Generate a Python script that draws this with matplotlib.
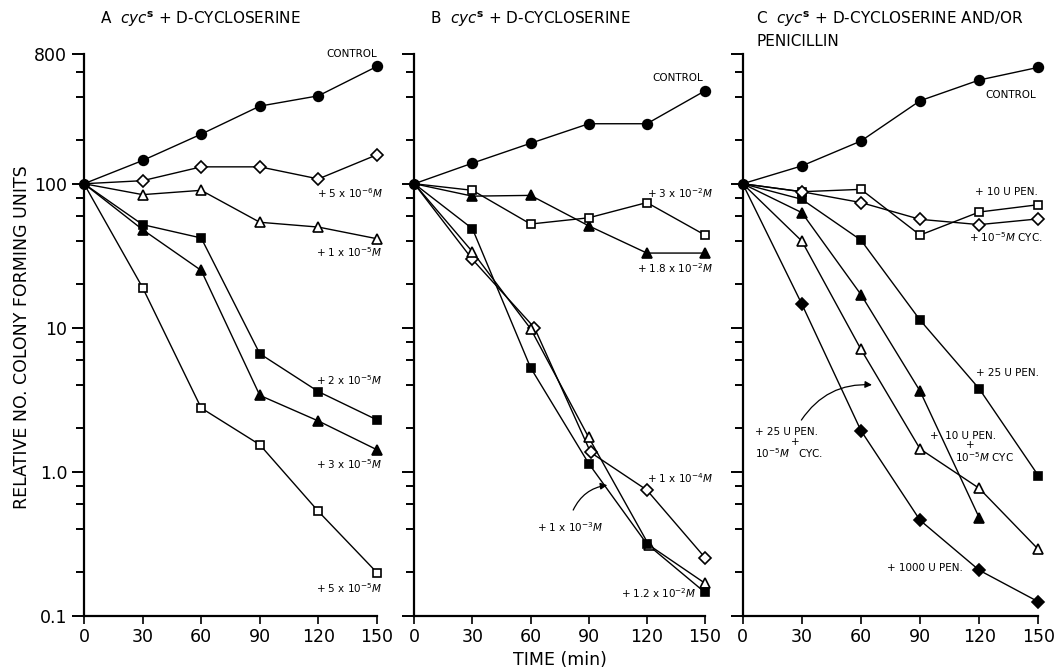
import matplotlib
matplotlib.use("Agg")
import matplotlib.pyplot as plt
from matplotlib.ticker import FixedLocator, FixedFormatter, NullFormatter

plt.rcParams['font.family'] = ['DejaVu Sans']
plt.rcParams['mathtext.default'] = 'regular'

# time points (min)
times = [0, 30, 60, 90, 120, 150]

# panel A: cyc^s + D-cycloserine
a_control = [100, 145, 221, 346, 408, 653]
a_5e6 = [100, 105, 131, 131, 108, 159]
a_1e5 = [100, 84, 90, 54, 50, 41.5]
a_2e5 = [100, 52, 42, 6.6, 3.6, 2.29]
a_3e5 = [100, 48, 25, 3.39, 2.25, 1.42]
a_5e5 = [100, 19, 2.77, 1.54, 0.53, 0.199]

# panel B: cyc^s + D-cycloserine (high doses)
b_control = [100, 139, 191, 261, 261, 442]
b_3e2 = [100, 90, 52.5, 58, 74, 44]
b_18e2 = [100, 82, 83, 51, 33, 33]
b_12e2 = [100, 48.7, 5.28, 1.14, 0.315, 0.145]
b_1e3 = [100, 33.7, 9.85, 1.73, 0.31, 0.168]
b_1e3_times = [0, 30, 60, 90, 121, 150]
b_1e4 = [100, 29.8, 10, 1.36, 0.746, 0.253]
b_1e4_times = [0, 30, 62, 91, 120, 150]

# panel C: cyc^s + D-cycloserine and/or penicillin
c_control = [100, 133, 198, 377, 525, 643]
c_10pen = [100, 88, 91.4, 44, 63.6, 71.5]
c_cyc = [100, 88, 74, 56.6, 52, 57]
c_25pen = [100, 78, 40.6, 11.3, 3.77, 0.94]
c_10pen_cyc = [100, 63, 17, 3.63, 0.48]
c_25pen_cyc = [100, 40, 7.08, 1.44, 0.767, 0.289]
c_1000pen = [100, 14.6, 1.93, 0.46, 0.207, 0.125]

y_major = [0.1, 1, 10, 100, 800]
y_major_labels = ["0.1", "1.0", "10", "100", "800"]
y_minor = [0.2, 0.4, 0.6, 0.8, 2, 4, 6, 8, 20, 40, 60, 80, 200, 400, 600]

fig = plt.figure(figsize=(10.63, 6.71), dpi=100)
W, H = 1063.0, 671.0
bottom = 1 - 615.7 / H
height = (615.7 - 53.7) / H
ax_a = fig.add_axes([84 / W, bottom, 293 / W, height])
ax_b = fig.add_axes([414.3 / W, bottom, 290.7 / W, height])
ax_c = fig.add_axes([742.7 / W, bottom, 295.6 / W, height])


def series(ax, x, vals, marker, filled, ms=7):
    ax.plot(x[:len(vals)], vals, color="black", lw=1.0, zorder=2, clip_on=False)
    ax.plot(x[1:len(vals)], vals[1:], ls="none", marker=marker, ms=ms,
            mfc="black" if filled else "white", mec="black", mew=1.2,
            zorder=3, clip_on=False)


for ax in (ax_a, ax_b, ax_c):
    ax.set_yscale("log")
    ax.set_xlim(0, 150)
    ax.set_ylim(0.1, 800)
    for s in ("top", "right"):
        ax.spines[s].set_visible(False)
    ax.spines["left"].set_linewidth(1.6)
    ax.spines["bottom"].set_linewidth(1.6)
    ax.set_xticks(times)
    ax.yaxis.set_major_locator(FixedLocator(y_major))
    ax.yaxis.set_minor_locator(FixedLocator(y_minor))
    ax.yaxis.set_minor_formatter(NullFormatter())
    ax.tick_params(axis="x", direction="out", length=6, width=1.2,
                   labelsize=12.5, pad=3)
    ax.tick_params(axis="y", which="major", direction="out", length=9,
                   width=1.4, labelsize=12.5, pad=3)
    ax.tick_params(axis="y", which="minor", direction="out", length=6,
                   width=1.4)
    ax.patch.set_visible(False)

ax_a.yaxis.set_major_formatter(FixedFormatter(y_major_labels))
ax_b.yaxis.set_major_formatter(NullFormatter())
ax_c.yaxis.set_major_formatter(NullFormatter())

# panel A
series(ax_a, times, a_5e5, "s", False, 6)
series(ax_a, times, a_3e5, "^", True)
series(ax_a, times, a_2e5, "s", True, 6)
series(ax_a, times, a_1e5, "^", False)
series(ax_a, times, a_5e6, "D", False, 6.5)
series(ax_a, times, a_control, "o", True)
ax_a.plot(0, 100, "o", ms=7, color="black", zorder=4, clip_on=False)

# panel B
series(ax_b, b_1e4_times, b_1e4, "D", False, 6.5)
series(ax_b, b_1e3_times, b_1e3, "^", False)
series(ax_b, times, b_12e2, "s", True, 6)
series(ax_b, times, b_18e2, "^", True)
series(ax_b, times, b_3e2, "s", False, 6)
series(ax_b, times, b_control, "o", True)
ax_b.plot(0, 100, "o", ms=7, color="black", zorder=4, clip_on=False)

# panel C
series(ax_c, times, c_1000pen, "D", True, 6.5)
series(ax_c, times, c_25pen_cyc, "^", False)
series(ax_c, times, c_10pen_cyc, "^", True)
series(ax_c, times, c_25pen, "s", True, 6)
series(ax_c, times, c_10pen, "s", False, 6)
series(ax_c, times, c_cyc, "D", False, 6.5)
series(ax_c, times, c_control, "o", True)
ax_c.plot(0, 100, "o", ms=7, color="black", zorder=4, clip_on=False)

small = 7.5
def lab(ax, x, y, s, ha="center"):
    ax.text(x, y, s, fontsize=small, ha=ha, va="center", clip_on=False)

M = r"$\mathit{M}$"
lab(ax_a, 137, 800, "CONTROL")
lab(ax_a, 136.5, 86, "+ 5 x 10$^{-6}$" + M)
lab(ax_a, 136, 33.6, "+ 1 x 10$^{-5}$" + M)
lab(ax_a, 135.5, 4.33, "+ 2 x 10$^{-5}$" + M)
lab(ax_a, 135.5, 1.13, "+ 3 x 10$^{-5}$" + M)
lab(ax_a, 135.5, 0.156, "+ 5 x 10$^{-5}$" + M)

lab(ax_b, 136, 542, "CONTROL")
lab(ax_b, 137, 86, "+ 3 x 10$^{-2}$" + M)
lab(ax_b, 134.5, 26, "+ 1.8 x 10$^{-2}$" + M)
lab(ax_b, 137, 0.904, "+ 1 x 10$^{-4}$" + M)
lab(ax_b, 80.3, 0.413, "+ 1 x 10$^{-3}$" + M)
lab(ax_b, 126, 0.144, "+ 1.2 x 10$^{-2}$" + M)
ax_b.annotate("", xy=(101, 0.81), xytext=(81.4, 0.52),
              arrowprops=dict(arrowstyle="-|>", color="black", lw=0.9,
                              mutation_scale=10,
                              connectionstyle="arc3,rad=-0.3"))

lab(ax_c, 136, 413, "CONTROL")
lab(ax_c, 133.6, 87.6, "+ 10 U PEN.")
lab(ax_c, 133.6, 42.7, "+ 10$^{-5}$" + M + " CYC.")
lab(ax_c, 134.6, 4.84, "+ 25 U PEN.")
lab(ax_c, 95, 1.77, "+  10 U PEN.", ha="left")
lab(ax_c, 115.4, 1.53, "+")
lab(ax_c, 107.7, 1.265, "10$^{-5}$" + M + " CYC", ha="left")
lab(ax_c, 6.2, 1.89, "+ 25 U PEN.", ha="left")
lab(ax_c, 26.5, 1.61, "+")
lab(ax_c, 6.2, 1.35, "10$^{-5}$" + M + "   CYC.", ha="left")
lab(ax_c, 92.5, 0.214, "+ 1000 U PEN.")
ax_c.annotate("", xy=(67, 4.0), xytext=(29, 2.2),
              arrowprops=dict(arrowstyle="-|>", color="black", lw=0.9,
                              mutation_scale=10,
                              connectionstyle="arc3,rad=-0.3"))

# panel titles
title_fs = 11
fig.text(100 / W, 1 - 19 / H, r"A  $\mathit{cyc}^{\mathbf{s}}$ + D-CYCLOSERINE",
         fontsize=title_fs, ha="left", va="center")
fig.text(430 / W, 1 - 19 / H, r"B  $\mathit{cyc}^{\mathbf{s}}$ + D-CYCLOSERINE",
         fontsize=title_fs, ha="left", va="center")
fig.text(756 / W, 1 - 19 / H,
         r"C  $\mathit{cyc}^{\mathbf{s}}$ + D-CYCLOSERINE AND/OR",
         fontsize=title_fs, ha="left", va="center")
fig.text(756 / W, 1 - 42 / H, "PENICILLIN", fontsize=title_fs,
         ha="left", va="center")

fig.text(22 / W, 1 - 337 / H, "RELATIVE NO. COLONY FORMING UNITS",
         rotation=90, fontsize=12.5, ha="center", va="center")
fig.text(560 / W, 1 - 660 / H, "TIME (min)", fontsize=12.5,
         ha="center", va="center")

fig.savefig("out.png", dpi=100)
